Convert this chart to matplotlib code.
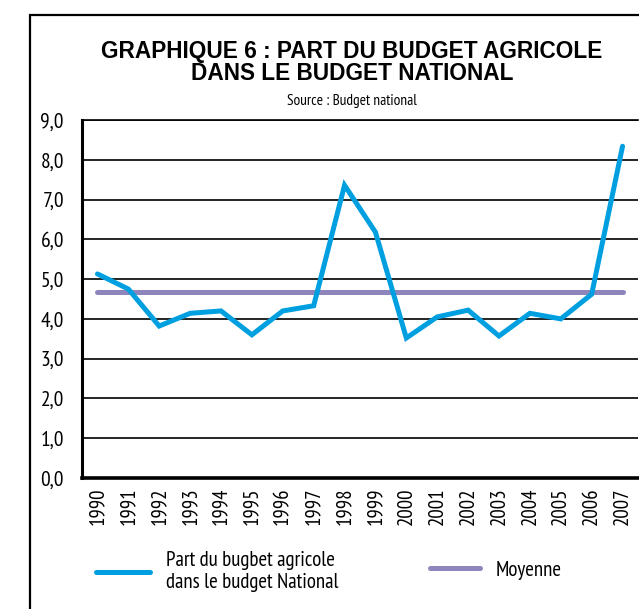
import matplotlib
matplotlib.use("Agg")
import matplotlib.pyplot as plt
from matplotlib.patches import Rectangle
from matplotlib.lines import Line2D

# donnees
annees = ["1990", "1991", "1992", "1993", "1994", "1995", "1996", "1997", "1998",
          "1999", "2000", "2001", "2002", "2003", "2004", "2005", "2006", "2007"]
part_budget = [5.13, 4.75, 3.82, 4.14, 4.20, 3.60, 4.20, 4.33, 7.36,
               6.18, 3.52, 4.05, 4.22, 3.57, 4.14, 4.00, 4.62, 8.34]
moyenne = 4.67
y_ticks = [0, 1, 2, 3, 4, 5, 6, 7, 8, 9]
y_labels = ["0,0", "1,0", "2,0", "3,0", "4,0", "5,0", "6,0", "7,0", "8,0", "9,0"]

BLEU = "#009fe0"
VIOLET = "#8e85bd"
NARROW = ["PT Sans Narrow", "DejaVu Sans"]
TITRE = ["Liberation Sans", "DejaVu Sans"]
W, H = 639, 609


def fx(px):
    return px / W


def fy(py):
    return 1 - py / H


def main():
    fig = plt.figure(figsize=(6.39, 6.09), dpi=100)
    fig.patch.set_facecolor("white")

    # cadre noir autour du graphique
    fig.patches.append(Rectangle((fx(30), fy(700)), 1.0, fy(15) - fy(700),
                                 transform=fig.transFigure, fill=False,
                                 edgecolor="black", linewidth=1.6))

    ax = fig.add_axes((fx(82), fy(478), fx(638) - fx(82), fy(120) - fy(478)))
    x = list(range(len(annees)))

    ax.set_ylim(0, 9)
    ax.set_xlim(-0.5, len(annees) - 0.5)
    ax.set_yticks(y_ticks)
    ax.set_yticklabels(y_labels, family=NARROW, fontsize=15.5)
    ax.set_xticks(x)
    ax.set_xticklabels(annees, rotation=90, family=NARROW, fontsize=15)
    ax.tick_params(axis="both", length=0)
    ax.tick_params(axis="y", pad=13)
    ax.tick_params(axis="x", pad=7)

    ax.yaxis.grid(True, color="black", linewidth=1.2)
    ax.set_axisbelow(True)
    ax.spines["right"].set_visible(False)
    ax.spines["top"].set_linewidth(1.2)
    ax.spines["left"].set_linewidth(2.2)
    ax.spines["bottom"].set_linewidth(2.6)

    ax.plot([x[0], x[-1]], [moyenne, moyenne], color=VIOLET, linewidth=3.6,
            solid_capstyle="round", zorder=3)
    ax.plot(x, part_budget, color=BLEU, linewidth=3.6,
            solid_capstyle="round", solid_joinstyle="miter", zorder=4)

    # titres
    fig.text(fx(352), fy(58), "GRAPHIQUE 6 : PART DU BUDGET AGRICOLE",
             ha="center", va="baseline", fontsize=16.3, fontweight="bold",
             family=TITRE)
    fig.text(fx(352), fy(80), "DANS LE BUDGET NATIONAL",
             ha="center", va="baseline", fontsize=16.3, fontweight="bold",
             family=TITRE)
    fig.text(fx(352), fy(105), "Source : Budget national",
             ha="center", va="baseline", fontsize=11, family=NARROW)

    # legende
    h1 = Line2D([], [], color=BLEU, linewidth=3.6, solid_capstyle="round")
    h2 = Line2D([], [], color=VIOLET, linewidth=3.6, solid_capstyle="round")
    fig.legend([h1], ["Part du bugbet agricole\ndans le budget National"],
               loc="center left", bbox_to_anchor=(fx(96), fy(572)),
               frameon=False, borderpad=0, borderaxespad=0,
               handlelength=2.6, handletextpad=0.75, labelspacing=0.2,
               prop={"family": NARROW, "size": 15})
    fig.legend([h2], ["Moyenne"],
               loc="center left", bbox_to_anchor=(fx(430), fy(570)),
               frameon=False, borderpad=0, borderaxespad=0,
               handlelength=2.4, handletextpad=0.75,
               prop={"family": NARROW, "size": 15})

    fig.savefig("out.png", dpi=100)
    return None


if __name__ == '__main__':
    main()
